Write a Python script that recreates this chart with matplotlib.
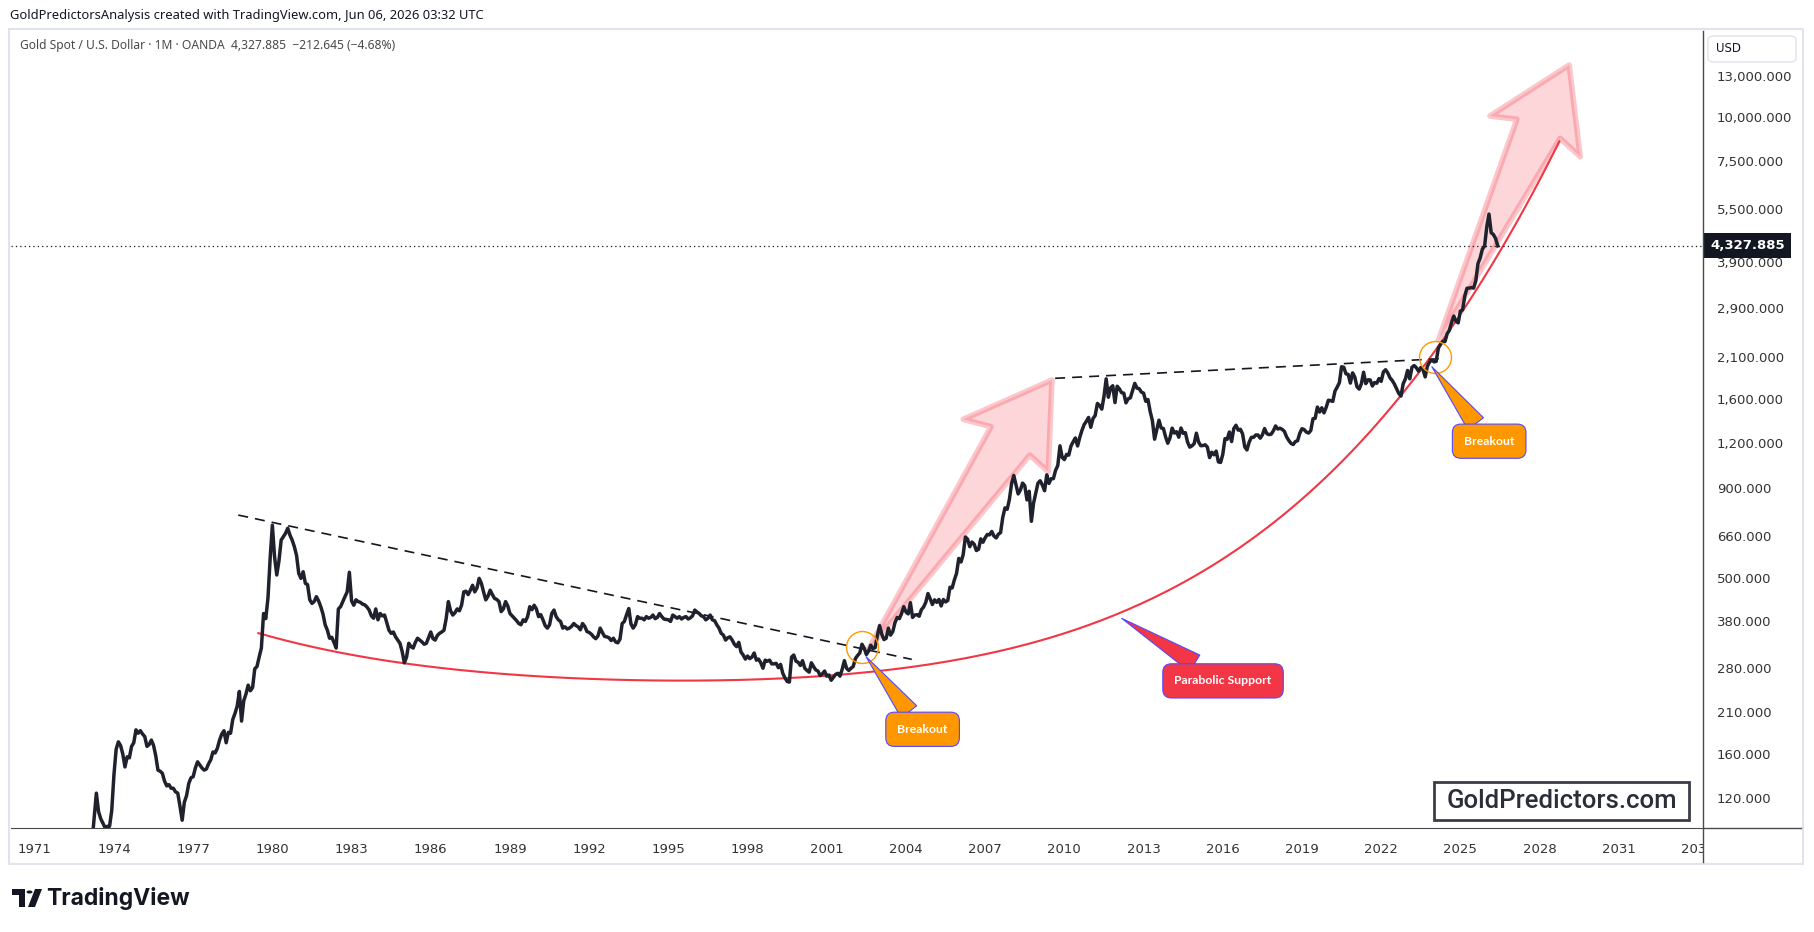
import numpy as np
import matplotlib.pyplot as plt
from matplotlib.patches import Polygon, Rectangle, FancyBboxPatch
from matplotlib.lines import Line2D
from matplotlib.ticker import NullLocator
from matplotlib.transforms import blended_transform_factory

# monthly closes XAUUSD (OANDA), Jan 1973 .. Jun 2026
gold_70s = [
    65, 72, 90, 106, 124, 110, 105, 102, 99, 100, 100, 111,
    140, 165, 173, 169, 160, 147, 157, 156, 168, 172, 187, 183,
    186, 182, 179, 168, 170, 175, 169, 158, 144, 143, 141, 134,
    130, 131, 128, 128, 125, 124, 114, 104, 117, 122, 132, 137,
    138, 146, 152, 149, 146, 144, 145, 150, 154, 162, 161, 166,
    175, 182, 186, 172, 184, 183, 200, 208, 218, 240, 198, 226,
    236, 250, 241, 246, 278, 282, 300, 318, 398, 385, 440, 570,
]
gold_80s = [
    706, 575, 511, 560, 641, 655, 670, 692, 662, 641, 614, 580,
    516, 500, 522, 484, 480, 435, 425, 430, 444, 432, 416, 397,
    370, 357, 339, 341, 330, 318, 410, 416, 430, 444, 458, 520,
    432, 420, 435, 430, 428, 423, 421, 415, 407, 392, 386, 410,
    382, 398, 392, 394, 375, 357, 350, 353, 342, 335, 328, 311,
    289, 300, 328, 321, 318, 330, 339, 335, 331, 326, 328, 340,
    353, 338, 335, 345, 350, 353, 357, 385, 430, 405, 394, 400,
    410, 405, 420, 458, 460, 450, 463, 478, 458, 470, 500, 484,
    458, 435, 445, 463, 450, 439, 436, 430, 403, 410, 430, 418,
    398, 392, 386, 380, 373, 370, 382, 378, 390, 416, 408, 420,
]
gold_90s = [
    410, 390, 395, 382, 368, 362, 370, 398, 407, 390, 382, 378,
    362, 365, 360, 362, 366, 373, 368, 365, 358, 373, 366, 354,
    352, 348, 342, 338, 344, 362, 352, 343, 342, 340, 334, 339,
    331, 329, 337, 373, 378, 395, 411, 372, 362, 370, 390, 386,
    386, 382, 390, 386, 388, 394, 385, 388, 398, 390, 384, 383,
    382, 378, 394, 390, 386, 390, 384, 388, 390, 384, 387, 392,
    407, 402, 398, 392, 390, 382, 386, 394, 382, 380, 370, 362,
    350, 346, 335, 340, 342, 335, 326, 321, 330, 310, 304, 296,
    302, 297, 300, 308, 294, 296, 289, 279, 294, 292, 294, 287,
    287, 288, 280, 286, 270, 262, 256, 255, 300, 304, 292, 290,
]
gold_00s = [
    284, 293, 279, 275, 272, 289, 282, 276, 274, 266, 269, 274,
    265, 267, 258, 263, 268, 270, 265, 277, 293, 279, 275, 279,
    282, 297, 303, 308, 326, 318, 305, 312, 324, 317, 319, 345,
    368, 348, 336, 339, 362, 346, 354, 375, 388, 385, 398, 416,
    402, 397, 427, 388, 394, 395, 391, 408, 415, 428, 453, 438,
    422, 435, 428, 436, 418, 436, 429, 433, 472, 470, 495, 517,
    569, 556, 583, 654, 645, 614, 633, 624, 599, 604, 646, 632,
    651, 665, 663, 678, 658, 650, 666, 673, 743, 790, 783, 834,
    925, 975, 917, 865, 887, 928, 912, 832, 880, 724, 815, 870,
    928, 942, 916, 883, 979, 926, 955, 955, 1008, 1040, 1182, 1096,
]
gold_10s = [
    1081, 1118, 1113, 1180, 1214, 1244, 1181, 1248, 1307, 1357, 1386, 1421,
    1333, 1410, 1439, 1556, 1536, 1500, 1628, 1826, 1620, 1722, 1746, 1565,
    1740, 1711, 1669, 1664, 1562, 1604, 1614, 1692, 1773, 1719, 1713, 1675,
    1664, 1578, 1596, 1476, 1393, 1234, 1312, 1396, 1327, 1323, 1253, 1202,
    1244, 1326, 1284, 1295, 1250, 1327, 1282, 1287, 1210, 1172, 1182, 1199,
    1283, 1212, 1183, 1184, 1190, 1172, 1095, 1134, 1115, 1142, 1065, 1061,
    1118, 1238, 1233, 1293, 1215, 1322, 1351, 1309, 1316, 1277, 1173, 1151,
    1211, 1249, 1249, 1268, 1268, 1242, 1269, 1322, 1280, 1271, 1275, 1303,
    1345, 1318, 1325, 1315, 1298, 1253, 1224, 1201, 1192, 1215, 1222, 1282,
    1321, 1313, 1292, 1284, 1305, 1409, 1413, 1520, 1472, 1513, 1464, 1517,
]
gold_20s = [
    1589, 1585, 1577, 1686, 1730, 1781, 1975, 1968, 1886, 1879, 1776, 1898,
    1847, 1734, 1708, 1769, 1906, 1770, 1814, 1813, 1743, 1783, 1774, 1829,
    1796, 1909, 1937, 1897, 1838, 1807, 1765, 1711, 1661, 1633, 1768, 1824,
    1928, 1826, 1969, 1990, 1962, 1919, 1965, 1940, 1849, 1983, 2036, 2063,
    2039, 2044, 2230, 2286, 2327, 2326, 2447, 2503, 2634, 2744, 2654, 2625,
    2835, 2858, 3124, 3288, 3289, 3303, 3290, 3448, 3858, 4003, 4239, 4320,
    4900, 5320, 4714, 4660, 4540.53, 4327.885,
]
last_price = 4327.885

price_ticks = [120, 160, 210, 280, 380, 500, 660, 900, 1200, 1600, 2100,
               2900, 3900, 5500, 7500, 10000, 13000]
year_ticks = list(range(1971, 2035, 3))

# drawings on the chart (year, price)
trend_down = ([1978.71, 2004.22], [754, 295.5])
trend_flat = ([2009.65, 2024.42], [1832, 2084])
support_x = [1979.47, 1982.4, 1985.1, 1988.0, 1991.0, 1995.7, 1999.5, 2002.5,
             2005.3, 2008.9, 2012.8, 2017.0, 2019.8, 2022.6, 2024.0, 2026.9,
             2027.9, 2028.75]
support_y = [344, 314, 292, 275, 263, 253, 256, 268, 291, 335, 425, 641,
             1010, 1560, 2063, 4305, 6640, 9020]
arrow1_x = [2002.56, 2007.22, 2006.17, 2009.53, 2009.39, 2008.69]
arrow1_y = [314, 1338, 1404, 1812, 999, 1113]
arrow2_x = [2024.17, 2027.14, 2026.12, 2029.12, 2029.54, 2028.78]
arrow2_y = [2349, 9842, 10056, 14001, 7719, 8700]
circles = [(2002.35, 319.6), (2024.02, 2108)]
callouts = [
    ('Breakout', (2002.49, 300.6), (2004.63, 187.7), '#ff9800'),
    ('Parabolic Support', (2012.17, 385.7), (2016.01, 257), '#f23645'),
    ('Breakout', (2023.92, 1975), (2026.09, 1218), '#ff9800'),
]

W, H = 1814, 932
fig = plt.figure(figsize=(W / 100, H / 100), dpi=100)
fig.patch.set_facecolor('white')


def fx(x):
    return x / W


def fy(y):
    return 1 - y / H


ax = fig.add_axes([fx(11), fy(828), fx(1703 - 11), (828 - 31) / H])
ax.set_yscale('log')
ax.set_xlim(1970.10, 2034.19)
ax.set_ylim(98.9, 17460)

prices = np.array(gold_70s + gold_80s + gold_90s + gold_00s + gold_10s + gold_20s)
dates = 1973 + np.arange(len(prices)) / 12

# pink target arrows
for xs, ys in [(arrow1_x, arrow1_y), (arrow2_x, arrow2_y)]:
    ax.add_patch(Polygon(list(zip(xs, ys)), closed=True,
                         fc=(0.949, 0.212, 0.271, 0.2), ec=(0.949, 0.212, 0.271, 0.28),
                         lw=4, joinstyle='round', zorder=2))

# parabolic support
xx = np.linspace(support_x[0], support_x[-1], 300)
coef = np.polyfit(support_x, np.log10(support_y), 4)
ax.plot(xx, 10 ** np.polyval(coef, xx), color='#f23645', lw=1.5, zorder=3)

# trendlines
for xs, ys in [trend_down, trend_flat]:
    ax.plot(xs, ys, color='#131722', lw=1.2, dashes=(6, 4.2), zorder=3)

ax.plot(dates, prices, color='#1f222d', lw=2.5, solid_joinstyle='round', zorder=4)

ax.axhline(last_price, color='#131722', lw=0.9, ls=(0, (1, 2.5)), zorder=3)

for cx, cy in circles:
    ax.plot([cx], [cy], 'o', ms=23, mfc='none', mec='#ff9800', mew=1.0, zorder=5)

for text, tip, box, col in callouts:
    ax.annotate(text, xy=tip, xytext=box, ha='center', va='center',
                color='white', fontsize=8.8, fontweight='bold', family='Lato',
                bbox=dict(boxstyle='round,pad=0.95,rounding_size=0.7', fc=col,
                          ec='#5447ff', lw=0.8),
                arrowprops=dict(arrowstyle='wedge,tail_width=1.6,shrink_factor=0.5',
                                fc=col, ec='#5447ff', lw=0.8, shrinkA=0, shrinkB=0),
                zorder=6)

# axes styling
for s in ['top', 'left', 'right']:
    ax.spines[s].set_visible(False)
ax.spines['bottom'].set_color('#4a4a4a')
ax.yaxis.tick_right()
ax.set_yticks(price_ticks)
ax.set_yticklabels([f'{v:,.3f}' for v in price_ticks])
ax.yaxis.set_minor_locator(NullLocator())
ax.set_xticks(year_ticks)
ax.set_xticklabels([str(y) for y in year_ticks])
ax.tick_params(axis='y', length=0, pad=10, labelsize=9.5, labelcolor='#333333')
ax.tick_params(axis='x', length=0, pad=11, labelsize=9.5, labelcolor='#333333')

tr = blended_transform_factory(ax.transAxes, ax.transData)
ax.annotate('4,327.885', xy=(1.0, last_price), xycoords=tr, xytext=(5, 0),
            textcoords='offset points', ha='left', va='center',
            color='white', fontsize=9.5, fontweight='bold', annotation_clip=False,
            zorder=10, bbox=dict(boxstyle='square,pad=0.45', fc='#131722', ec='none'))

# frame pieces of the TradingView snapshot
fig.add_artist(Rectangle((fx(9), fy(864)), fx(1794), (864 - 29) / H, fill=False,
                         ec='#e0e3eb', lw=1.5, zorder=1))
fig.add_artist(Rectangle((fx(1704), fy(862)), fx(98), 30 / H, fc='white',
                         ec='none', zorder=3))
fig.add_artist(Line2D([fx(1703), fx(1703)], [fy(31), fy(862)], color='#4a4a4a',
                      lw=1, zorder=4))
fig.add_artist(Line2D([fx(1703), fx(1801)], [fy(828), fy(828)], color='#4a4a4a',
                      lw=1, zorder=4))
fig.add_artist(FancyBboxPatch((fx(1708), fy(62)), fx(88), 26 / H,
                              boxstyle='round,pad=0,rounding_size=0.004',
                              fc='white', ec='#e0e3eb', lw=1, zorder=4))
fig.text(fx(1716), fy(49), 'USD', fontsize=8.5, color='#131722', va='center', zorder=5)

fig.text(fx(10), fy(16), 'GoldPredictorsAnalysis created with TradingView.com, Jun 06, 2026 03:32 UTC',
         fontsize=9.3, family='Noto Sans', color='#131722', va='center')
fig.text(fx(20), fy(46), 'Gold Spot / U.S. Dollar \u00b7 1M \u00b7 OANDA  4,327.885  \u2212212.645 (\u22124.68%)',
         fontsize=8.7, family='Noto Sans', color='#4a4a4a', va='center')

# watermark
fig.add_artist(Rectangle((fx(1434), fy(820)), fx(255), 38 / H, fc='white',
                         ec='#3a3d48', lw=2, zorder=5))
fig.text(fx(1561.5), fy(801), 'GoldPredictors.com', fontsize=18.5, family='Roboto',
         fontweight='medium', color='#2a2e39', ha='center', va='center', zorder=6)

# TradingView logo
logo = [[(12, 889), (25, 889), (25, 907), (19, 907), (19, 895), (12, 895)],
        [(28, 907), (35, 889), (42, 889), (35, 907)]]
for pts in logo:
    fig.add_artist(Polygon([(fx(a), fy(b)) for a, b in pts], closed=True,
                           fc='#131722', ec='none'))
fig.add_artist(plt.Circle((fx(29.5), fy(892)), 3 / W, fc='#131722', ec='none'))
fig.text(fx(46), fy(898), 'TradingView', fontsize=16.5, fontweight='bold',
         family='Inter', color='#131722', va='center')

fig.savefig('out.png', dpi=100, facecolor='white')
